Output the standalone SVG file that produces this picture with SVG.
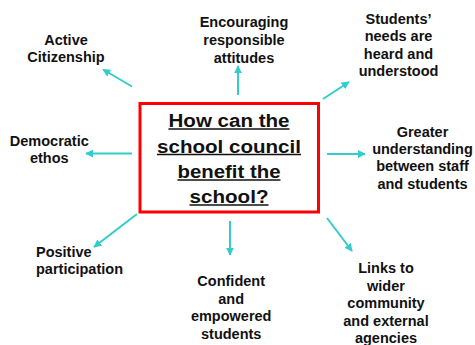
<svg xmlns="http://www.w3.org/2000/svg" width="475" height="345" viewBox="0 0 475 345">
<style>
.lbl{font-family:"Liberation Sans",Arial,sans-serif;font-weight:bold;font-size:14.5px;fill:#111;text-anchor:middle}
.lft{text-anchor:start}
.q{font-family:"Liberation Sans",Arial,sans-serif;font-weight:bold;font-size:17.5px;fill:#111;text-anchor:middle}
.ul{stroke:#111;stroke-width:1.6}
.conn{stroke:#33CCCC;stroke-width:2;fill:none;marker-end:url(#ah)}
</style>
<defs>
<marker id="ah" viewBox="0 0 10 10" refX="9" refY="5" markerWidth="4" markerHeight="4" orient="auto" markerUnits="strokeWidth">
<path d="M0,0 L10,5 L0,10 z" fill="#33CCCC"/>
</marker>
</defs>
<rect width="475" height="345" fill="#fff"/>
<g id="connectors">
<line class="conn" x1="238" y1="95" x2="238" y2="66"/>
<line class="conn" x1="323" y1="99" x2="349" y2="82"/>
<line class="conn" x1="327" y1="154" x2="365" y2="154"/>
<line class="conn" x1="327" y1="218" x2="352" y2="251"/>
<line class="conn" x1="230" y1="221" x2="230" y2="255"/>
<line class="conn" x1="137" y1="214" x2="94" y2="247"/>
<line class="conn" x1="132" y1="153.5" x2="86" y2="153.5"/>
<line class="conn" x1="132" y1="86.5" x2="103" y2="69.5"/>
</g>
<g id="center">
<rect x="140" y="103.5" width="178.5" height="108.5" fill="#fff" stroke="#FF0000" stroke-width="3"/>
<text class="q" x="229" y="127" textLength="121" lengthAdjust="spacingAndGlyphs">How can the</text>
<text class="q" x="229" y="152.5" textLength="144" lengthAdjust="spacingAndGlyphs">school council</text>
<text class="q" x="229" y="178" textLength="103" lengthAdjust="spacingAndGlyphs">benefit the</text>
<text class="q" x="229" y="203" textLength="79" lengthAdjust="spacingAndGlyphs">school?</text>
<line class="ul" x1="168.5" y1="129" x2="289.5" y2="129"/>
<line class="ul" x1="157" y1="154.5" x2="301" y2="154.5"/>
<line class="ul" x1="177.5" y1="180" x2="280.5" y2="180"/>
<line class="ul" x1="189.5" y1="205" x2="268.5" y2="205"/>
</g>
<g id="active">
<text class="lbl" x="66" y="44.5">Active</text>
<text class="lbl" x="66" y="61.8">Citizenship</text>
</g>
<g id="encouraging">
<text class="lbl" x="244" y="27">Encouraging</text>
<text class="lbl" x="244" y="44.8">responsible</text>
<text class="lbl" x="244" y="62.5">attitudes</text>
</g>
<g id="students">
<text class="lbl" x="398.5" y="23.5">Students’</text>
<text class="lbl" x="398.5" y="41">needs are</text>
<text class="lbl" x="398.5" y="58.5">heard and</text>
<text class="lbl" x="398.5" y="76">understood</text>
</g>
<g id="democratic">
<text class="lbl" x="49.3" y="145.7">Democratic</text>
<text class="lbl" x="49.3" y="163.3">ethos</text>
</g>
<g id="greater">
<text class="lbl" x="422.5" y="136.5">Greater</text>
<text class="lbl" x="422.5" y="153.5">understanding</text>
<text class="lbl" x="422.5" y="171">between staff</text>
<text class="lbl" x="422.5" y="188.5">and students</text>
</g>
<g id="positive">
<text class="lbl lft" x="36" y="256.7">Positive</text>
<text class="lbl lft" x="36" y="274">participation</text>
</g>
<g id="confident">
<text class="lbl" x="231.2" y="286">Confident</text>
<text class="lbl" x="231.2" y="303.5">and</text>
<text class="lbl" x="231.2" y="321">empowered</text>
<text class="lbl" x="231.2" y="338.5">students</text>
</g>
<g id="links">
<text class="lbl" x="386" y="273.3">Links to</text>
<text class="lbl" x="386" y="290.8">wider</text>
<text class="lbl" x="386" y="308.3">community</text>
<text class="lbl" x="386" y="325.8">and external</text>
<text class="lbl" x="386" y="343.3">agencies</text>
</g>
</svg>
